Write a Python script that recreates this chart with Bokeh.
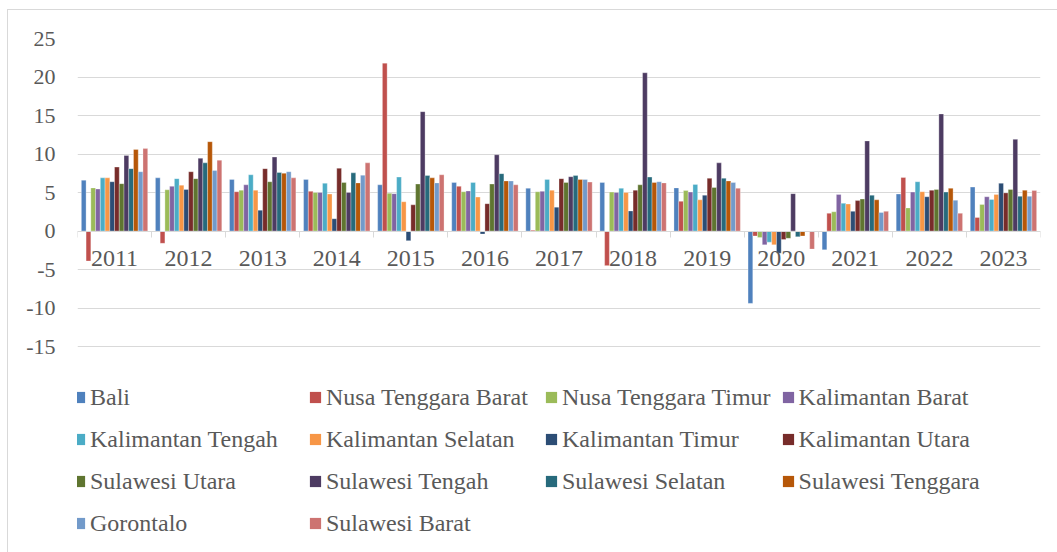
from bokeh.plotting import figure
from bokeh.models import (Range1d, LinearAxis, FixedTicker, Legend,
                          LegendItem, ColumnDataSource)
from bokeh.transform import dodge
from bokeh.embed import file_html
from bokeh.resources import INLINE

years = ["2011", "2012", "2013", "2014", "2015", "2016", "2017",
         "2018", "2019", "2020", "2021", "2022", "2023"]

bali      = [6.6, 6.9, 6.7, 6.7, 6.0, 6.3, 5.55, 6.3, 5.6, -9.4, -2.45, 4.8, 5.7]
ntb       = [-3.9, -1.6, 5.1, 5.15, 21.8, 5.8, 0.1, -4.5, 3.85, -0.65, 2.3, 6.95, 1.75]
ntt       = [5.6, 5.35, 5.3, 5.0, 4.9, 5.1, 5.1, 5.05, 5.25, -0.85, 2.5, 3.0, 3.45]
kalbar    = [5.45, 5.8, 6.0, 5.0, 4.85, 5.2, 5.15, 5.0, 5.05, -1.8, 4.75, 5.05, 4.45]
kalteng   = [6.9, 6.8, 7.3, 6.2, 7.0, 6.3, 6.7, 5.55, 6.05, -1.45, 3.6, 6.4, 4.1]
kalsel    = [6.9, 5.95, 5.3, 4.8, 3.8, 4.4, 5.3, 5.0, 4.05, -1.8, 3.5, 5.1, 4.75]
kaltim    = [6.4, 5.4, 2.7, 1.6, -1.25, -0.4, 3.1, 2.6, 4.65, -2.9, 2.55, 4.45, 6.2]
kaltara   = [8.3, 7.7, 8.1, 8.15, 3.4, 3.55, 6.8, 5.3, 6.85, -1.1, 3.95, 5.3, 4.95]
sulut     = [6.15, 6.8, 6.4, 6.3, 6.1, 6.1, 6.3, 6.0, 5.65, -0.95, 4.15, 5.4, 5.4]
sulteng   = [9.8, 9.45, 9.6, 5.0, 15.5, 9.9, 7.05, 20.55, 8.85, 4.85, 11.7, 15.2, 11.9]
sulsel    = [8.1, 8.85, 7.6, 7.55, 7.2, 7.45, 7.2, 7.0, 6.85, -0.75, 4.65, 5.05, 4.5]
sultra    = [10.6, 11.6, 7.5, 6.25, 6.9, 6.5, 6.7, 6.3, 6.5, -0.65, 4.05, 5.55, 5.3]
gorontalo = [7.7, 7.85, 7.7, 7.25, 6.25, 6.5, 6.7, 6.4, 6.3, -0.02, 2.4, 4.0, 4.5]
sulbar    = [10.7, 9.2, 6.9, 8.85, 7.3, 6.0, 6.35, 6.25, 5.55, -2.35, 2.55, 2.3, 5.25]

series_names = ["Bali", "Nusa Tenggara Barat", "Nusa Tenggara Timur", "Kalimantan Barat",
                "Kalimantan Tengah", "Kalimantan Selatan", "Kalimantan Timur", "Kalimantan Utara",
                "Sulawesi Utara", "Sulawesi Tengah", "Sulawesi Selatan", "Sulawesi Tenggara",
                "Gorontalo", "Sulawesi Barat"]
series_values = [bali, ntb, ntt, kalbar, kalteng, kalsel, kaltim, kaltara,
                 sulut, sulteng, sulsel, sultra, gorontalo, sulbar]
colors = ["#4F81BD", "#C0504D", "#9BBB59", "#8064A2", "#4BACC6", "#F79646", "#2C4D75",
          "#772C2A", "#5F7530", "#4D3B62", "#276A7C", "#B65708", "#729ACA", "#CD7371"]

y_ticks = [-15, -10, -5, 0, 5, 10, 15, 20, 25]
y_tick_labels = ["-15", "-10", "-5", "0", "5", "10", "15", "20", "25"]

FONT = "Liberation Serif"
TXT = "#595959"
GRID = "#D9D9D9"
NAN = float("nan")

# layout (pixels)
W, H = 1057, 552
LEFT, RIGHT, TOP = 77, 1040, 38
AXIS_BOTTOM = 346            # where -15 sits
px_per_unit = (AXIS_BOTTOM - TOP) / (y_ticks[-1] - y_ticks[0])
# the frame is extended below the value axis to host the legend
y_min = y_ticks[0] - (H - AXIS_BOTTOM) / px_per_unit

n_cat = len(years)
centers = [i + 0.5 for i in range(n_cat)]
bounds = list(range(n_cat + 1))

p = figure(width=W, height=H,
           x_range=Range1d(0, n_cat), y_range=Range1d(y_min, y_ticks[-1]),
           x_axis_type=None,
           output_backend="svg", toolbar_location=None,
           min_border_left=LEFT, min_border_right=W - RIGHT,
           min_border_top=TOP, min_border_bottom=0)
p.outline_line_color = None
p.background_fill_color = "white"
p.border_fill_color = None
# faint chart-area border (top and left edges visible in the reference)
p.styles = {
    "background": ("linear-gradient(#D9D9D9, #D9D9D9) 7px 9px / 1px 100% no-repeat, "
                   "linear-gradient(#D9D9D9, #D9D9D9) 7px 9px / 100% 1px no-repeat, white"),
}

# y axis
p.yaxis.ticker = FixedTicker(ticks=y_ticks)
p.yaxis.major_label_overrides = {t: l for t, l in zip(y_ticks, y_tick_labels)}
p.yaxis.axis_line_color = None
p.yaxis.major_tick_line_color = None
p.yaxis.minor_tick_line_color = None
p.yaxis.major_tick_out = 0
p.yaxis.major_label_standoff = 22
p.yaxis.major_label_text_font = FONT
p.yaxis.major_label_text_font_size = "22px"
p.yaxis.major_label_text_color = TXT

p.ygrid.ticker = FixedTicker(ticks=y_ticks)
p.ygrid.grid_line_color = GRID

# boundary ticks + axis line at y=0
bax = LinearAxis(ticker=FixedTicker(ticks=bounds), fixed_location=0)
bax.axis_line_color = GRID
bax.major_tick_line_color = GRID
bax.major_tick_out = 6
bax.major_tick_in = 0
bax.minor_tick_line_color = None
bax.major_label_text_color = None
bax.major_label_text_font_size = "1px"
p.add_layout(bax, "below")

# category labels at y=0
lax = LinearAxis(ticker=FixedTicker(ticks=centers), fixed_location=0)
lax.major_label_overrides = {c: y for c, y in zip(centers, years)}
lax.axis_line_color = None
lax.major_tick_line_color = None
lax.minor_tick_line_color = None
lax.major_tick_out = 0
lax.major_tick_in = 0
lax.major_label_standoff = 20
lax.major_label_text_font = FONT
lax.major_label_text_font_size = "24px"
lax.major_label_text_color = TXT
p.add_layout(lax, "below")

n = len(series_names)
slot = 0.064
items = []
for j, (name, vals, c) in enumerate(zip(series_names, series_values, colors)):
    src = ColumnDataSource(dict(xc=centers, year=years, value=vals))
    p.vbar(x=dodge("xc", (j - (n - 1) / 2) * slot),
           top="value", bottom=0, width=slot, source=src,
           fill_color=c, line_color="white", line_width=0.5, line_alpha=0.6)
    # square legend key (an undrawn NaN row, only its swatch is used)
    key = p.quad(left=[NAN], right=[NAN], top=[NAN], bottom=[NAN],
                 fill_color=c, line_color=None)
    items.append(LegendItem(label=name, renderers=[key]))

legend = Legend(items=items, ncols=4, orientation="horizontal",
                location=(-5, 13),
                glyph_width=14, glyph_height=14, label_standoff=4,
                label_width=208, label_height=32, spacing=10,
                padding=0, margin=0, border_line_color=None,
                background_fill_color=None, background_fill_alpha=0,
                label_text_font=FONT, label_text_font_size="24px",
                label_text_color=TXT)
p.add_layout(legend)

open("out.html", "w").write(file_html(p, INLINE))
